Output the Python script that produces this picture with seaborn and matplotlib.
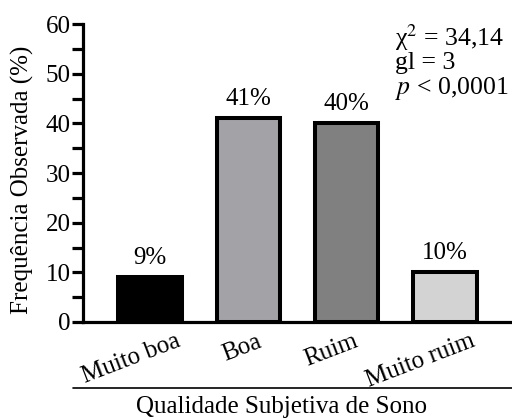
import matplotlib
matplotlib.use("Agg")
import matplotlib.pyplot as plt
import matplotlib.transforms as mtransforms
from matplotlib.lines import Line2D
from matplotlib.ticker import MultipleLocator
import seaborn as sns
import pandas as pd

categories = ["Muito boa", "Boa", "Ruim", "Muito ruim"]
values = [9, 41, 40, 10]
labels = ["9%", "41%", "40%", "10%"]
colors = ["#000000", "#a3a3a7", "#808080", "#d3d3d3"]
yticks = [0, 10, 20, 30, 40, 50, 60]

sns.set_theme(style="ticks")
plt.rcParams["font.family"] = ["Liberation Serif", "DejaVu Serif"]
plt.rcParams["mathtext.fontset"] = "stix"
plt.rcParams["text.color"] = "black"

FS = 18
df = pd.DataFrame({"cat": categories, "val": values})

fig = plt.figure(figsize=(5.12, 4.19), dpi=100)
ax = fig.add_axes([83/512, 1-322/419, 1-83/512, (322-24)/419])

sns.barplot(data=df, x="cat", y="val", hue="cat", palette=colors, legend=False,
            edgecolor="black", linewidth=2.9, width=0.645, saturation=1, ax=ax)

ax.set_xlim(-0.68, 3.68)
ax.set_ylim(0, 60)
ax.set_yticks(yticks)
ax.yaxis.set_minor_locator(MultipleLocator(5))
for s in ["top", "right"]:
    ax.spines[s].set_visible(False)
for s in ["left", "bottom"]:
    ax.spines[s].set_linewidth(2.3)
    ax.spines[s].set_color("black")
ax.tick_params(axis="y", which="both", length=8, width=2.3, color="black",
               labelsize=FS, pad=1, labelcolor="black")
ax.tick_params(axis="x", length=0, labelsize=FS, pad=6, labelcolor="black")
ax.set_xlabel("")
ax.set_ylabel("")

label_shift_px = [26, 8, 6, 25]
for lab, sh in zip(ax.get_xticklabels(), label_shift_px):
    lab.set_rotation(21)
    lab.set_ha("right")
    lab.set_rotation_mode("anchor")
    off = mtransforms.ScaledTranslation(sh/100, 0, fig.dpi_scale_trans)
    lab.set_transform(lab.get_transform() + off)

for i, (v, t) in enumerate(zip(values, labels)):
    ax.text(i, v + 1.6, t, ha="center", va="bottom", fontsize=FS, color="black")

fig.text(22/512, 1-180/419, "Frequência Observada (%)", rotation=90,
         ha="center", va="center", fontsize=FS, color="black")
fig.text(282/512, 1-413/419, "Qualidade Subjetiva de Sono",
         ha="center", va="baseline", fontsize=FS, color="black")
fig.add_artist(Line2D([73/512, 1.0], [1-388/419, 1-388/419], color="black",
                      linewidth=1.2, transform=fig.transFigure))

FS2 = 18.5
fig.text(395/512, 1-38/419, "χ$^2$ = 34,14", ha="left", va="center", fontsize=FS2)
fig.text(395/512, 1-63/419, "gl = 3", ha="left", va="center", fontsize=FS2)
fig.text(395/512, 1-89/419, r"$p$ < 0,0001", ha="left", va="center", fontsize=FS2)

fig.savefig("out.png", dpi=100)
